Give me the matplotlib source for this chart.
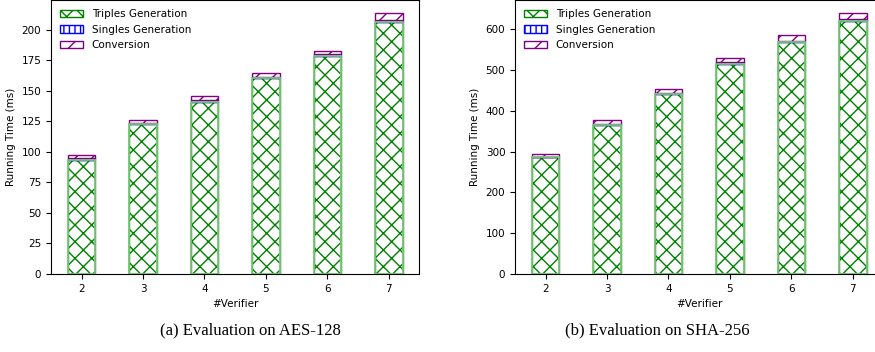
import matplotlib.pyplot as plt
import numpy as np

verifiers = [2, 3, 4, 5, 6, 7]

# AES-128 (ms)
aes_triples = [93.5, 122.5, 141, 160, 178.5, 206]
aes_singles = [1, 1, 1.5, 1.2, 1.3, 2]
aes_conv = [2.5, 2.5, 3, 3, 3, 5.5]

# SHA-256 (ms)
sha_triples = [286, 366, 441, 516, 569, 621]
sha_singles = [2, 2, 2, 3, 3, 4]
sha_conv = [7, 9, 11, 11, 15, 15]

captions = ["(a) Evaluation on AES-128", "(b) Evaluation on SHA-256"]

plt.rcParams['hatch.linewidth'] = 1.0

fig = plt.figure(figsize=(8.75, 3.52), dpi=100)
ax1 = fig.add_axes([0.0583, 0.2216, 0.421, 0.7784])
ax2 = fig.add_axes([0.5886, 0.2216, 0.421, 0.7784])

width = 0.45

def draw(ax, triples, singles, conv):
    x = np.array(verifiers)
    t = np.array(triples)
    s = np.array(singles)
    c = np.array(conv)
    ax.bar(x, t, width, color='white', edgecolor='green', hatch='xx', label='Triples Generation')
    ax.bar(x, s, width, bottom=t, color='white', edgecolor='blue', hatch='|||', label='Singles Generation')
    ax.bar(x, c, width, bottom=t + s, color='white', edgecolor='purple', hatch='//', label='Conversion')
    # softer outline on the main bars
    ax.bar(x, t, width, fill=False, edgecolor='#7cc47c', linewidth=1.3)
    ax.set_xticks(verifiers)
    ax.set_xlabel('#Verifier', fontsize=7.5)
    ax.set_ylabel('Running Time (ms)', fontsize=7.5)
    ax.tick_params(labelsize=7.5)
    ax.legend(loc='upper left', frameon=False, fontsize=7.5, handlelength=2.2)

draw(ax1, aes_triples, aes_singles, aes_conv)
draw(ax2, sha_triples, sha_singles, sha_conv)

fig.text(0.286, 0.062, captions[0], ha='center', va='center', family='Liberation Serif', fontsize=12)
fig.text(0.751, 0.062, captions[1], ha='center', va='center', family='Liberation Serif', fontsize=12)

fig.savefig('out.png', dpi=100)
